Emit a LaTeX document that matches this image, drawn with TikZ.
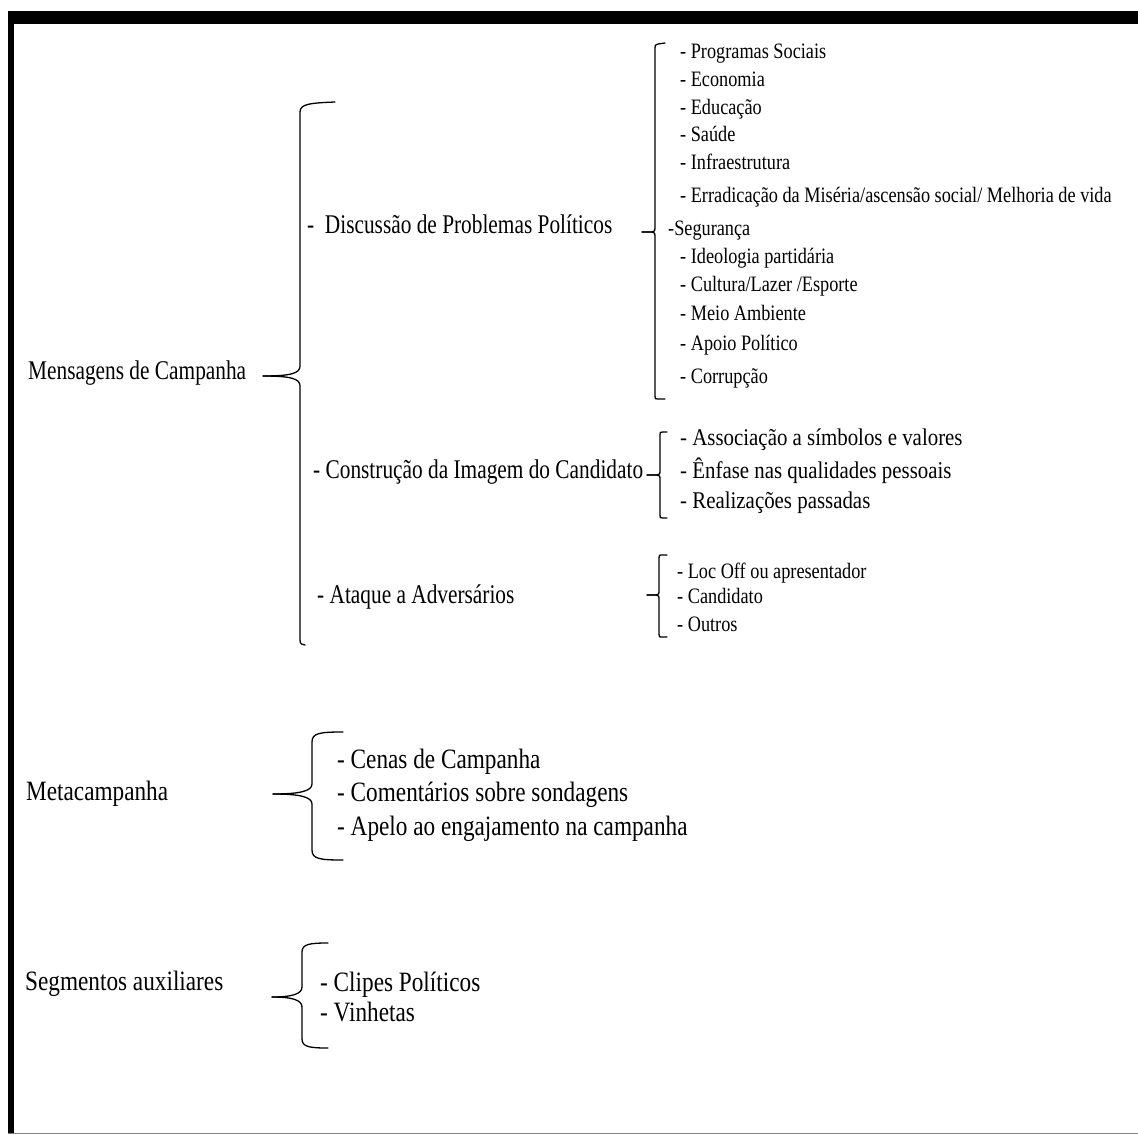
\documentclass[tikz,border=0pt]{standalone}
\usepackage{fontspec}
\setmainfont{Liberation Serif}[FakeStretch=0.83]
\newfontfamily\narrowfont{Liberation Serif}[FakeStretch=0.79]
\newfontfamily\midfont{Liberation Serif}[FakeStretch=0.87]
\begin{document}
\begin{tikzpicture}[x=1pt,y=-1pt,
  lbl/.style={anchor=west, inner sep=0pt, text height=0.8em, text depth=0.05em},
  big/.style={lbl, font=\narrowfont\fontsize{27}{30}\selectfont},
  lower/.style={lbl, font=\fontsize{28}{30}\selectfont},
  small/.style={lbl, font=\fontsize{22}{24}\selectfont},
  mid/.style={lbl, font=\midfont\fontsize{24}{26}\selectfont},
  brace/.style={line width=1.3pt, line cap=round, line join=round}]
\useasboundingbox (0,0) rectangle (1138,1135);
% frame
\fill[black] (8,11) rectangle (1138,24);
\fill[black] (8,11) rectangle (14,1134);
\draw[gray, line width=1pt] (8,1133.5) -- (1138,1133.5);

% level 1
\node[big] (msg) at (28,376) {Mensagens de Campanha};
\node[lower] (meta) at (26,797) {Metacampanha};
\node[lower] (seg) at (25,987) {Segmentos auxiliares};

% big brace
\coordinate (b1) at (263,376);
\draw[brace] (335,102) .. controls (310,103) and (300,104) .. (300,112) -- (300,366)
  .. controls (300,373) and (292,376) .. (b1);
\draw[brace] (b1) .. controls (292,376) and (300,379) .. (300,386) -- (300,640)
  .. controls (300,644) and (302,645) .. (305,645);

% level 2
\node[big] (disc) at (307,230) {-\ \ Discussão de Problemas Políticos};
\node[big] (cons) at (313,475) {- Construção da Imagem do Candidato};
\node[big] (atq) at (317,600) {- Ataque a Adversários};

% bracket problems
\coordinate (b2) at (642,232);
\draw[brace] (665,43) -- (658,44) .. controls (655,45) .. (655,48) -- (655,228)
  .. controls (655,231) .. (652,232) -- (b2);
\draw[brace] (b2) -- (652,232) .. controls (655,233) .. (655,236) -- (655,396)
  .. controls (655,399) .. (658,399) -- (665,399);
\node[small] (p1) at (680,55) {- Programas Sociais};
\node[small] (p2) at (680,83) {- Economia};
\node[small] (p3) at (680,111) {- Educação};
\node[small] (p4) at (680,138) {- Saúde};
\node[small] (p5) at (680,166) {- Infraestrutura};
\node[small] (p6) at (680,199) {- Erradicação da Miséria/ascensão social/ Melhoria de vida};
\node[small] (p7) at (668,232) {-Segurança};
\node[small] (p8) at (680,260) {- Ideologia partidária};
\node[small] (p9) at (680,288) {- Cultura/Lazer /Esporte};
\node[small] (p10) at (680,317) {- Meio Ambiente};
\node[small] (p11) at (680,347) {- Apoio Político};
\node[small] (p12) at (680,380) {- Corrupção};

% bracket construcao
\coordinate (b3) at (647,475);
\draw[brace] (667,432) -- (663,432) .. controls (660,432) .. (660,435) -- (660,472)
  .. controls (660,474) .. (657,475) -- (b3);
\draw[brace] (b3) -- (657,475) .. controls (660,476) .. (660,478) -- (660,515)
  .. controls (660,518) .. (663,518) -- (667,518);
\node[mid] (c1) at (680,442) {- Associação a símbolos e valores};
\node[mid] (c2) at (680,475) {- Ênfase nas qualidades pessoais};
\node[mid] (c3) at (680,505) {- Realizações passadas};

% bracket ataque
\coordinate (b4) at (647,595);
\draw[brace] (667,555) -- (663,555) .. controls (659,555) .. (659,558) -- (659,592)
  .. controls (659,594) .. (656,595) -- (b4);
\draw[brace] (b4) -- (656,595) .. controls (659,596) .. (659,598) -- (659,634)
  .. controls (659,637) .. (663,637) -- (667,637);
\node[small] (a1) at (677,575) {- Loc Off ou apresentador};
\node[small] (a2) at (677,600) {- Candidato};
\node[small] (a3) at (677,628) {- Outros};

% meta brace
\coordinate (b5) at (273,794);
\draw[brace] (343,732) .. controls (320,732) and (312,733) .. (312,742) -- (312,784)
  .. controls (312,791) and (300,794) .. (b5);
\draw[brace] (b5) .. controls (300,794) and (312,797) .. (312,804) -- (312,850)
  .. controls (312,859) and (320,860) .. (343,860);
\node[lower] (m1) at (337,765) {- Cenas de Campanha};
\node[lower] (m2) at (337,798) {- Comentários sobre sondagens};
\node[lower] (m3) at (337,832) {- Apelo ao engajamento na campanha};

% seg brace
\coordinate (b6) at (272,997);
\draw[brace] (328,943) .. controls (310,943) and (302,944) .. (302,952) -- (302,987)
  .. controls (302,994) and (292,997) .. (b6);
\draw[brace] (b6) .. controls (292,997) and (302,1000) .. (302,1007) -- (302,1039)
  .. controls (302,1047) and (310,1048) .. (328,1048);
\node[lower] (s1) at (320,988) {- Clipes Políticos};
\node[lower] (s2) at (320,1018) {- Vinhetas};
\end{tikzpicture}
\end{document}
